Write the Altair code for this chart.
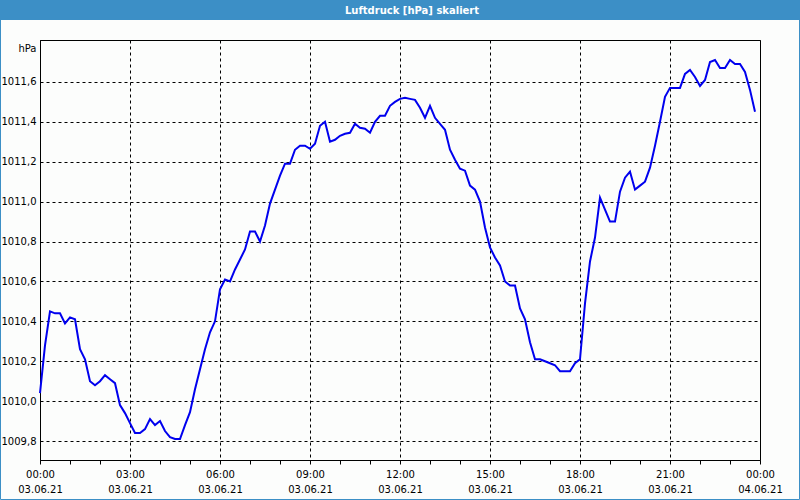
import altair as alt
import pandas as pd

# Luftdruck (hPa), 10-Minuten-Werte ab 03.06.21 00:00
pressure = [
    1010.04, 1010.28, 1010.45, 1010.44, 1010.44, 1010.39, 1010.42, 1010.41,
    1010.26, 1010.21, 1010.10, 1010.08, 1010.10, 1010.13, 1010.11, 1010.09,
    1009.98, 1009.94, 1009.89, 1009.84, 1009.84, 1009.86, 1009.91, 1009.88,
    1009.90, 1009.85, 1009.82, 1009.81, 1009.81, 1009.88, 1009.945, 1010.06,
    1010.16, 1010.26, 1010.345, 1010.40, 1010.56, 1010.61, 1010.60, 1010.66,
    1010.71, 1010.76, 1010.85, 1010.85, 1010.80, 1010.88, 1010.99, 1011.06,
    1011.13, 1011.19, 1011.19, 1011.26, 1011.28, 1011.28, 1011.265, 1011.29,
    1011.38, 1011.40, 1011.30, 1011.31, 1011.33, 1011.34, 1011.345, 1011.39,
    1011.37, 1011.365, 1011.345, 1011.40, 1011.43, 1011.43, 1011.48, 1011.50,
    1011.515, 1011.52, 1011.515, 1011.51, 1011.47, 1011.42, 1011.48, 1011.42,
    1011.39, 1011.36, 1011.26, 1011.21, 1011.165, 1011.155, 1011.08, 1011.06,
    1011.00, 1010.87, 1010.77, 1010.72, 1010.68, 1010.60, 1010.58, 1010.58,
    1010.465, 1010.41, 1010.295, 1010.21, 1010.21, 1010.20, 1010.19, 1010.18,
    1010.15, 1010.15, 1010.15, 1010.19, 1010.21, 1010.49, 1010.70, 1010.82,
    1011.02, 1010.96, 1010.90, 1010.90, 1011.05, 1011.12, 1011.15, 1011.06,
    1011.08, 1011.10, 1011.17, 1011.28, 1011.40, 1011.525, 1011.57, 1011.57,
    1011.57, 1011.64, 1011.66, 1011.625, 1011.58, 1011.61, 1011.70, 1011.71,
    1011.67, 1011.67, 1011.71, 1011.69, 1011.69, 1011.65, 1011.56, 1011.45,
]
times = pd.date_range("2021-06-03 00:00", periods=len(pressure), freq="10min")
time_strings = list(times.strftime("%Y-%m-%dT%H:%M:%SZ"))

y_ticks = [1009.8, 1010.0, 1010.2, 1010.4, 1010.6, 1010.8, 1011.0, 1011.2, 1011.4, 1011.6]
title_text = "Luftdruck [hPa] skaliert"

df = pd.DataFrame({"zeit": time_strings, "druck": pressure})

FONT = "DejaVu Sans"
BLUE = "#3c8fc6"

x_values = [alt.DateTime(year=2021, month=6, date=3 + (h // 24), hours=h % 24, utc=True)
            for h in range(25)]

line = alt.Chart(df).mark_line(color="#0000ee", strokeWidth=2).encode(
    x=alt.X(
        "zeit:T",
        scale=alt.Scale(
            type="utc",
            domain=[alt.DateTime(year=2021, month=6, date=3, hours=0, utc=True),
                    alt.DateTime(year=2021, month=6, date=4, hours=0, utc=True)],
            nice=False,
        ),
        axis=alt.Axis(
            title=None,
            values=x_values,
            labelExpr="utchours(datum.value) % 3 == 0 ? [utcFormat(datum.value, '%H:%M'), utcFormat(datum.value, '%d.%m.%y')] : ''",
            gridOpacity={"condition": {"test": "utchours(datum.value) % 3 == 0", "value": 1}, "value": 0},
            tickSize=4,
            labelPadding=5,
            labelLineHeight=15,
            labelFlush=False,
            labelOverlap=False,
        ),
    ),
    y=alt.Y(
        "druck:Q",
        scale=alt.Scale(domain=[1009.705, 1011.81], nice=False, zero=False),
        axis=alt.Axis(
            title="hPa",
            titleAngle=0,
            titleAlign="right",
            titleBaseline="alphabetic",
            titleX=-4,
            titleY=11,
            titleFontWeight="normal",
            titleFont=FONT,
            titleFontSize=10,
            titleColor="black",
            values=y_ticks,
            labelExpr="replace(format(datum.value, '.1f'), '.', ',')",
            tickSize=0,
            labelPadding=4,
        ),
    ),
)

one = alt.Data(values=[{}])

frame = alt.Chart(one).mark_rect(fillOpacity=0, stroke=BLUE, strokeWidth=1).encode(
    x=alt.value(-39.5), x2=alt.value(759.5), y=alt.value(-39.5), y2=alt.value(459.5)
)
bar = alt.Chart(one).mark_rect(color=BLUE).encode(
    x=alt.value(-40), x2=alt.value(760), y=alt.value(-40), y2=alt.value(-20)
)
title = alt.Chart(one).mark_text(
    text=title_text, color="white", font=FONT, fontSize=10, fontWeight="bold",
    align="center", baseline="alphabetic"
).encode(x=alt.value(372), y=alt.value(-26))

chart = alt.layer(line, bar, title, frame).properties(
    width=720,
    height=420,
    autosize=alt.AutoSizeParams(type="none"),
    padding={"left": 40, "top": 40, "right": 40, "bottom": 40},
    background="#fcfdfc",
).configure_view(
    stroke="black", strokeWidth=1
).configure_axis(
    domainColor="black",
    domainWidth=1,
    gridColor="black",
    gridDash=[3, 3],
    gridWidth=1,
    tickColor="black",
    labelFont=FONT,
    labelFontSize=10,
    labelColor="black",
)

chart.save("out.html", embed_options={"renderer": "svg", "actions": False})
